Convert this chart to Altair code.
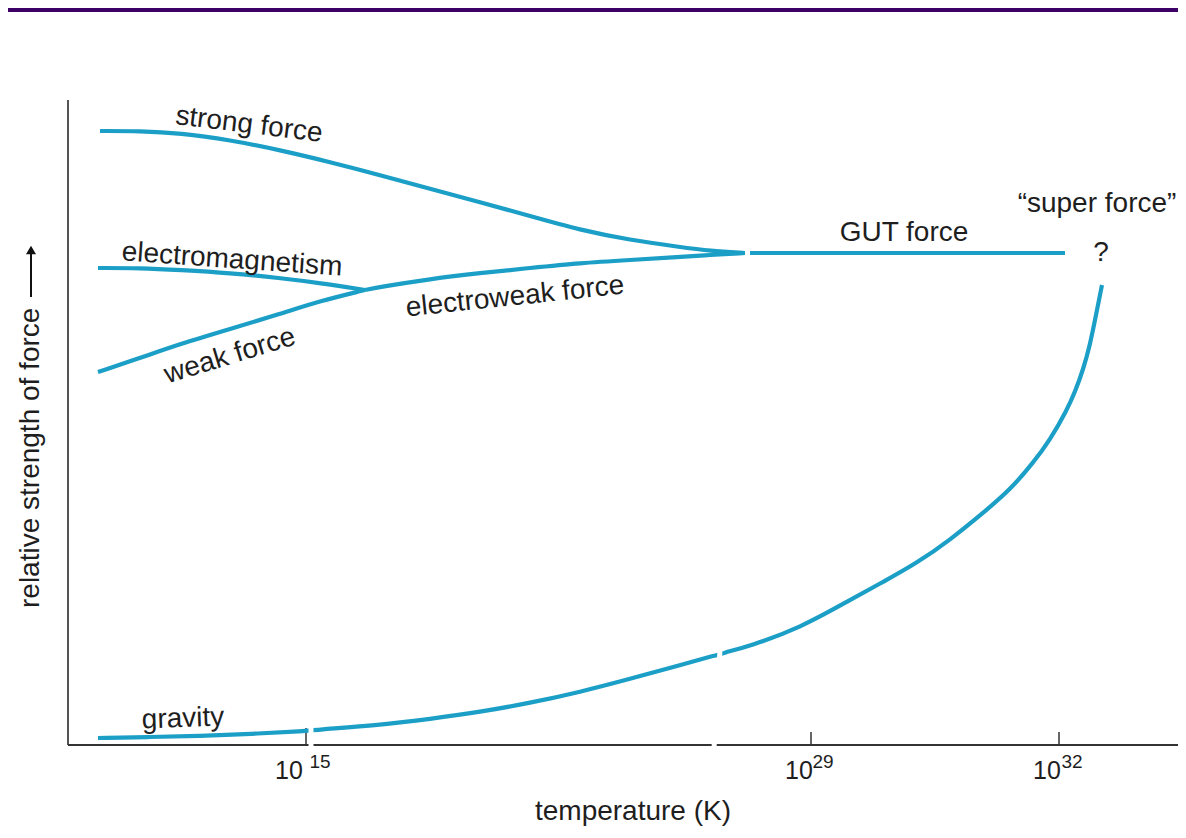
import altair as alt
import pandas as pd

# ---------------- data (x: position along temperature axis, y: relative strength) ----------------
strong_x = [32, 72, 112, 162, 212, 262, 312, 362, 412, 462, 512, 562, 612, 642, 677]
strong_y = [614, 614, 612, 605, 595, 583, 570, 556, 543, 529, 515, 505, 498, 494, 492]

em_x = [30, 72, 112, 162, 212, 252, 297]
em_y = [477, 477, 475, 472, 467, 462, 455]

weak_x = [30, 72, 112, 162, 212, 252, 297]
weak_y = [373, 387, 401, 416, 431, 444, 455]

ew_x = [297, 312, 362, 412, 462, 512, 562, 612, 642, 677]
ew_y = [455, 458, 466, 472, 477, 482, 485, 488, 490, 492]

gut_x = [677, 997]
gut_y = [492, 492]

grav_x = [30, 82, 132, 182, 239, 245, 312, 362, 412, 462, 512, 562, 612, 649, 655, 682,
          732, 782, 815, 849, 882, 915, 942, 965, 982, 999, 1007, 1015, 1022, 1028, 1032, 1034]
grav_y = [7, 8, 9, 11, 14, 15, 20, 26, 33, 42, 53, 66, 80, 90, 92, 99,
          117, 145, 163, 182, 205, 232, 255, 282, 305, 335, 353, 375, 400, 430, 450, 460]

# axis ticks
tick_x = [238, 743, 991]
tick_top = [17, 13, 13]
tick_base = ["10", "10", "10"]
tick_sup = ["15", "29", "32"]
tick_base_x = [221, 731, 979]
tick_sup_x = [252, 755, 1004]

# curve labels
label_text = ["strong force", "electromagnetism", "weak force", "electroweak force",
              "GUT force", "gravity", "\u201csuper force\u201d", "?"]
label_x = [181, 164, 162, 447, 836, 115, 1029, 1033]
label_y = [620, 485, 389, 448, 512, 26, 541, 492]
label_angle = [7, 4, 343, 354, 0, 358, 0, 0]

# scale-break marks (white cuts through axis / curves)
break_x = [243, 646, 679.5]
break_x2 = [243, 652, 679.5]
break_y = [-3, -3, 489]
break_y2 = [23, 95, 494]

x_title = "temperature (K)"
y_title = "relative strength of force"

FONT = "Liberation Sans"
LINE = "#1B9FC6"
TXT = "#1e1e1e"

# ---------------- build tables ----------------
rows = []
for name, xs_, ys_ in [("strong", strong_x, strong_y), ("em", em_x, em_y), ("weak", weak_x, weak_y),
                       ("ew", ew_x, ew_y), ("gut", gut_x, gut_y), ("gravity", grav_x, grav_y)]:
    for i, (a, b) in enumerate(zip(xs_, ys_)):
        rows.append({"series": name, "i": i, "x": a, "y": b})
curves = pd.DataFrame(rows)

xs = alt.Scale(domain=[0, 1110], nice=False, zero=False)
ys = alt.Scale(domain=[0, 645], nice=False, zero=False)
X = lambda f="x": alt.X(f"{f}:Q", scale=xs, axis=None)
Y = lambda f="y": alt.Y(f"{f}:Q", scale=ys, axis=None)

lines = alt.Chart(curves).mark_line(color=LINE, strokeWidth=4.2, interpolate="basis",
                                    strokeCap="butt").encode(
    x=X(), y=Y(), detail="series:N", order="i:Q")

# axes
axes_df = pd.DataFrame({"x": [0, 0], "x2": [0, 1110], "y": [0, 0], "y2": [645, 0],
                        "c": ["#555555", "#333333"]})
axes = alt.Chart(axes_df).mark_rule(strokeWidth=2).encode(
    x=X(), x2="x2:Q", y=Y(), y2="y2:Q", color=alt.Color("c:N", scale=None))

ticks_df = pd.DataFrame({"x": tick_x, "y": [0] * 3, "y2": tick_top})
ticks = alt.Chart(ticks_df).mark_rule(strokeWidth=1.5, color="#333333").encode(
    x=X(), y=Y(), y2="y2:Q")

breaks_df = pd.DataFrame({"x": break_x, "x2": break_x2, "y": break_y, "y2": break_y2})
breaks = alt.Chart(breaks_df).mark_rule(strokeWidth=5, color="white").encode(
    x=X(), x2="x2:Q", y=Y(), y2="y2:Q")

base_df = pd.DataFrame({"x": tick_base_x, "y": [-26] * 3, "t": tick_base})
base_lbl = alt.Chart(base_df).mark_text(font=FONT, fontSize=25, color=TXT, baseline="middle").encode(
    x=X(), y=Y(), text="t:N")
sup_df = pd.DataFrame({"x": tick_sup_x, "y": [-17] * 3, "t": tick_sup})
sup_lbl = alt.Chart(sup_df).mark_text(font=FONT, fontSize=19, color=TXT, baseline="middle").encode(
    x=X(), y=Y(), text="t:N")

lab_df = pd.DataFrame({"x": label_x, "y": label_y, "t": label_text, "a": label_angle})
labels = alt.Chart(lab_df).mark_text(font=FONT, fontSize=28, color=TXT, baseline="middle").encode(
    x=X(), y=Y(), text="t:N", angle=alt.Angle("a:Q", scale=None))

xt_df = pd.DataFrame({"x": [565], "y": [-67], "t": [x_title]})
xtitle = alt.Chart(xt_df).mark_text(font=FONT, fontSize=28, color=TXT, baseline="middle").encode(
    x=X(), y=Y(), text="t:N")

yt_df = pd.DataFrame({"x": [-37], "y": [137], "t": [y_title]})
ytitle = alt.Chart(yt_df).mark_text(font=FONT, fontSize=28, color=TXT, baseline="middle",
                                    align="left", angle=270).encode(
    x=X(), y=Y(), text="t:N")

arrow_df = pd.DataFrame({"x": [-37], "y": [448], "y2": [494]})
arrow = alt.Chart(arrow_df).mark_rule(strokeWidth=2, color="#111111").encode(
    x=X(), y=Y(), y2="y2:Q")
head_df = pd.DataFrame({"x": [-37], "y": [495]})
head = alt.Chart(head_df).mark_point(shape="triangle-up", filled=True, size=100, color="#111111",
                                     opacity=1).encode(x=X(), y=Y())

frame_df = pd.DataFrame({"x": [-60], "x2": [1110], "y": [733], "y2": [737]})
frame = alt.Chart(frame_df).mark_rect(color="#3D0066").encode(
    x=X(), x2="x2:Q", y=Y(), y2="y2:Q")

chart = alt.layer(frame, axes, ticks, lines, breaks, base_lbl, sup_lbl, labels, xtitle, ytitle,
                  arrow, head).properties(
    width=1110, height=645,
    padding={"left": 60, "top": 92, "right": 0, "bottom": 85},
    autosize=alt.AutoSizeParams(type="none"),
    background="white",
).configure_view(stroke=None)

chart.save("out.html", embed_options={"renderer": "svg", "actions": False})
